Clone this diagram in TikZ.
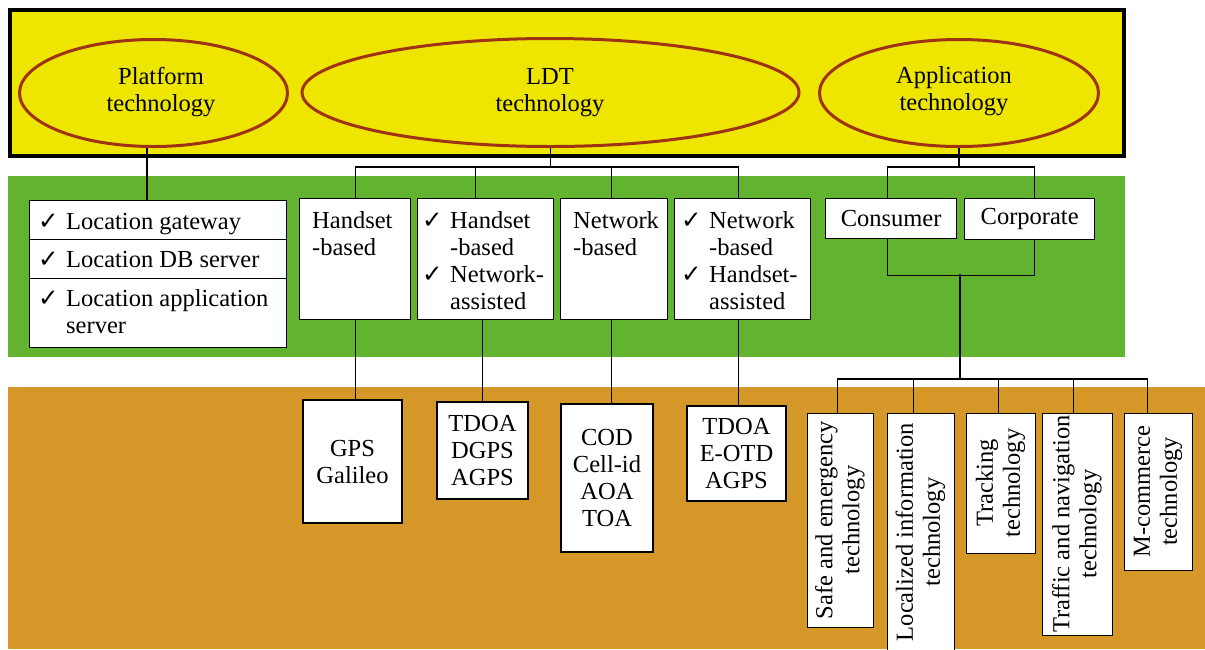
\documentclass[tikz,border=0pt]{standalone}
\usepackage{fontspec}
\setmainfont{Liberation Serif}
\newfontfamily\symf{DejaVu Sans}
\usetikzlibrary{shapes.geometric}
\definecolor{ylw}{RGB}{238,230,0}
\definecolor{grn}{RGB}{98,180,48}
\definecolor{orng}{RGB}{212,151,40}
\definecolor{ellbrown}{RGB}{160,50,20}
\newcommand\ckm{\makebox[28pt][l]{\symf ✓}}
\newcommand\nck{\hspace*{28pt}}
\begin{document}
\begin{tikzpicture}[x=1pt,y=-1pt,
  font=\fontsize{24.5}{27}\selectfont,
  box/.style={draw=black, line width=1.3pt, fill=white, inner sep=0pt, anchor=north west},
  ell/.style={ellipse, draw=ellbrown, line width=3pt, inner sep=0pt},
  txt/.style={inner sep=0pt, align=left, anchor=base west},
  ctxt/.style={inner sep=0pt, align=center},
  con/.style={line width=1.3pt, draw=black}]

\useasboundingbox (0,0) rectangle (1205,649);
\clip (0,0) rectangle (1205,649);
\fill[white] (0,0) rectangle (1205,649);
\fill[orng] (8,387) rectangle (1205,649);
\fill[grn] (8,176) rectangle (1125,357);
\draw[line width=4pt, fill=ylw] (9.5,9.5) rectangle (1124,155.5);

% ellipses
\node[ell, minimum width=268, minimum height=107] (plat) at (153.5,93) {};
\node[ell, minimum width=497, minimum height=108] (ldt) at (550.5,92.5) {};
\node[ell, minimum width=279, minimum height=107] (app) at (959,93) {};
\node[ctxt, anchor=base] (platT) at (161,111) {Platform\\technology};
\node[ctxt, anchor=base] (ldtT) at (550,111) {LDT\\technology};
\node[ctxt, anchor=base] (appT) at (954,110) {Application\\technology};

% platform list
\node[box, minimum width=257, minimum height=39] (pb1) at (29,200) {};
\node[box, minimum width=257, minimum height=39] (pb2) at (29,239) {};
\node[box, minimum width=257, minimum height=69] (pb3) at (29,278) {};
\node[txt] (pt1) at (38,229) {\ckm Location gateway};
\node[txt] (pt2) at (38,267) {\ckm Location DB server};
\node[txt] (pt3) at (38,333) {\ckm Location application\\\nck server};
\draw[con] ([xshift=-6.5pt]plat.south) -- ([xshift=-6.5pt]plat.south |- pb1.north);

% LDT boxes
\node[box, minimum width=111, minimum height=121] (hb1) at (299,198) {};
\node[box, minimum width=136, minimum height=121] (hb2) at (417,198) {};
\node[box, minimum width=107, minimum height=121] (hb3) at (560,198) {};
\node[box, minimum width=136, minimum height=121] (hb4) at (674,198) {};
\node[txt] (hb1t) at (312,255) {Handset\\-based};
\node[txt] (hb2t) at (422,309) {\ckm Handset\\\nck -based\\\ckm Network-\\\nck assisted};
\node[txt] (hb3t) at (573,255) {Network\\-based};
\node[txt] (hb4t) at (681,309) {\ckm Network\\\nck -based\\\ckm Handset-\\\nck assisted};
\draw[con] (ldt.south) -- ++(0,20);
\draw[con] (hb1.north) -- ++(0,-31) -| ([xshift=-4pt]hb4.north);
\draw[con] ([xshift=-10pt]hb2.north) -- ++(0,-31);
\draw[con] ([xshift=-3pt]hb3.north) -- ++(0,-31);

% bottom method boxes
\node[box, anchor=center, minimum width=99, minimum height=123, align=center] (gps) at (352.5,461.5) {GPS\\Galileo};
\node[box, anchor=center, minimum width=91, minimum height=97, align=center] (tdoa1) at (482.5,450.5) {TDOA\\DGPS\\AGPS};
\node[box, anchor=center, minimum width=92, minimum height=148, align=center] (cod) at (607,478) {COD\\Cell-id\\AOA\\TOA};
\node[box, anchor=center, minimum width=99, minimum height=95, align=center] (tdoa2) at (736.5,453.5) {TDOA\\E-OTD\\AGPS};
\draw[con] (hb1.south) -- (hb1.south |- gps.north);
\draw[con] ([xshift=-3pt]hb2.south) -- ([xshift=-3pt]hb2.south |- tdoa1.north);
\draw[con] ([xshift=-2.5pt]hb3.south) -- ([xshift=-2.5pt]hb3.south |- cod.north);
\draw[con] ([xshift=-4pt]hb4.south) -- ([xshift=-4pt]hb4.south |- tdoa2.north);

% application branch
\node[box, minimum width=131, minimum height=40] (cons) at (825,198) {};
\node[box, minimum width=130, minimum height=41] (corp) at (964,198) {};
\node[ctxt] (const) at (cons.center) {Consumer};
\node[ctxt] (corpt) at (corp.center) {Corporate};
\draw[con] (app.south) -- ++(0,20);
\draw[con] ([xshift=-3.5pt]cons.north) -- ++(0,-31) -| ([xshift=5pt]corp.north);
\draw[con] ([xshift=-3.5pt]cons.south) -- ++(0,36) -| ([xshift=5pt]corp.south);
\coordinate (mid) at (960,274);
\draw[con] (mid) -- ++(0,105);

% application technology boxes
\node[box, minimum width=66, minimum height=214] (sa) at (807,413) {};
\node[box, minimum width=67, minimum height=245] (li) at (887,413) {};
\node[box, minimum width=69, minimum height=140] (tr) at (966,413) {};
\node[box, minimum width=70, minimum height=222] (tn) at (1042,413) {};
\node[box, minimum width=68, minimum height=157] (mc) at (1124,413) {};
\node[ctxt, rotate=90] (sat) at (840,520) {Safe and emergency\\technology};
\node[ctxt, rotate=90] (lit) at (920.5,532) {Localized information\\technology};
\node[ctxt, rotate=90] (trt) at (1000.5,483) {Tracking\\technology};
\node[ctxt, rotate=90] (tnt) at (1077,524) {Traffic and navigation\\technology};
\node[ctxt, rotate=90] (mct) at (1158,491.5) {M-commerce\\technology};
\draw[con] ([xshift=-3pt]sa.north) -- ++(0,-34) -| ([xshift=-11pt]mc.north);
\draw[con] ([xshift=-7.5pt]li.north) -- ++(0,-34);
\draw[con] ([xshift=-2.5pt]tr.north) -- ++(0,-34);
\draw[con] ([xshift=-4pt]tn.north) -- ++(0,-34);
\end{tikzpicture}
\end{document}
